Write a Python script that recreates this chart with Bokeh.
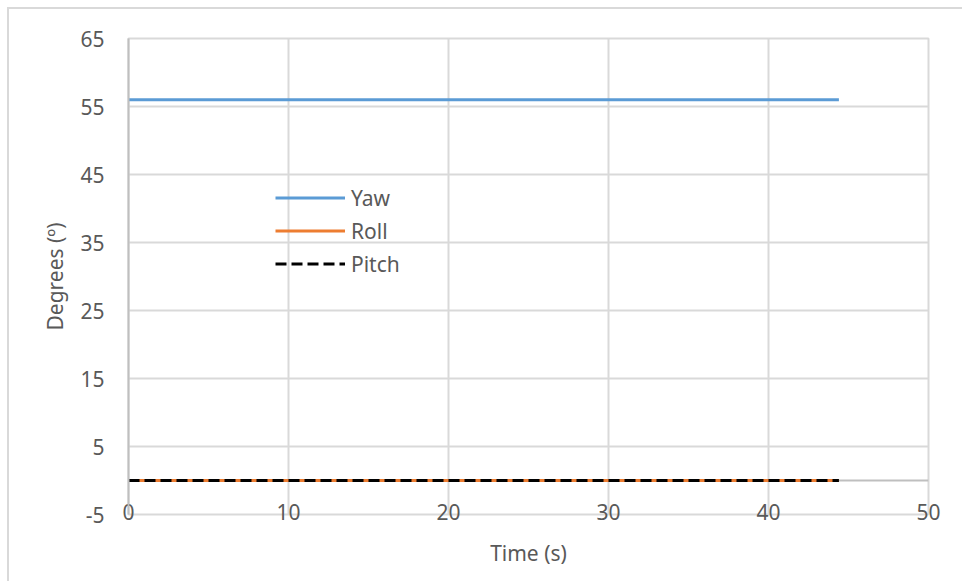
from bokeh.plotting import figure
from bokeh.models import (FixedTicker, Legend, LegendItem, Span, Range1d,
                          PrintfTickFormatter, InlineStyleSheet)
from bokeh.embed import file_html
from bokeh.resources import INLINE

# Attitude angles over time
time_s = [0.0, 44.4]
yaw = [56.0, 56.0]
roll = [0.0, 0.0]
pitch = [0.0, 0.0]

x_ticks = [0, 10, 20, 30, 40, 50]
y_ticks = [-5, 5, 15, 25, 35, 45, 55, 65]

FONT = "Noto Sans"
TEXT = "#595959"
GRID = "#d9d9d9"

p = figure(width=962, height=581, output_backend="svg", toolbar_location=None,
           x_range=Range1d(0, 50), y_range=Range1d(-5, 65),
           min_border_left=128, min_border_right=34, min_border_top=38, min_border_bottom=67)
p.background_fill_color = "white"
p.border_fill_color = "white"
p.outline_line_color = GRID
p.outline_line_width = 2

# light frame around the chart area
p.stylesheets = [InlineStyleSheet(css="""
:host::after {
  content: "";
  position: absolute;
  left: 7px; top: 7px; right: 0; bottom: 0;
  border-top: 2px solid #d9d9d9;
  border-left: 2px solid #d9d9d9;
  pointer-events: none;
}
""")]

# grid
p.xgrid.ticker = FixedTicker(ticks=x_ticks)
p.ygrid.ticker = FixedTicker(ticks=y_ticks)
for g in (p.xgrid[0], p.ygrid[0]):
    g.grid_line_color = GRID
    g.grid_line_width = 2

# axes
xa = p.xaxis[0]
xa.ticker = FixedTicker(ticks=x_ticks)
xa.axis_line_color = None
xa.major_tick_line_color = None
xa.minor_tick_line_color = None
xa.major_label_standoff = -17
xa.axis_label = "Time (s)"
xa.axis_label_standoff = 16

ya = p.yaxis[0]
ya.ticker = FixedTicker(ticks=y_ticks)
ya.formatter = PrintfTickFormatter(format="%d")
ya.axis_line_color = "#bfbfbf"
ya.axis_line_width = 2
ya.major_tick_line_color = None
ya.minor_tick_line_color = None
ya.major_label_standoff = 18
ya.axis_label = "Degrees (º)"
ya.axis_label_standoff = 8

for a in (xa, ya):
    a.major_label_text_font = FONT
    a.major_label_text_font_size = "21px"
    a.major_label_text_color = TEXT
    a.axis_label_text_font = FONT
    a.axis_label_text_font_size = "21px"
    a.axis_label_text_font_style = "normal"
    a.axis_label_text_color = TEXT

# horizontal axis crossing at zero, beneath the series
p.add_layout(Span(location=0, dimension="width", line_color="#bfbfbf",
                  line_width=2, level="underlay"))

r_yaw = p.line(time_s, yaw, line_color="#5b9bd5", line_width=3)
r_roll = p.line(time_s, roll, line_color="#ed7d31", line_width=3)
r_pitch = p.line(time_s, pitch, line_color="black", line_width=3, line_dash="11 5")

legend = Legend(items=[LegendItem(label="Yaw", renderers=[r_yaw]),
                       LegendItem(label="Roll", renderers=[r_roll]),
                       LegendItem(label="Pitch", renderers=[r_pitch])],
                location=(147, 234), orientation="vertical",
                glyph_width=70, glyph_height=33, label_height=33, spacing=0,
                padding=0, margin=0, label_standoff=6,
                background_fill_alpha=0, border_line_color=None,
                label_text_font=FONT, label_text_font_size="21px", label_text_color=TEXT)
p.add_layout(legend, "center")

open("out.html", "w").write(file_html(p, INLINE))
